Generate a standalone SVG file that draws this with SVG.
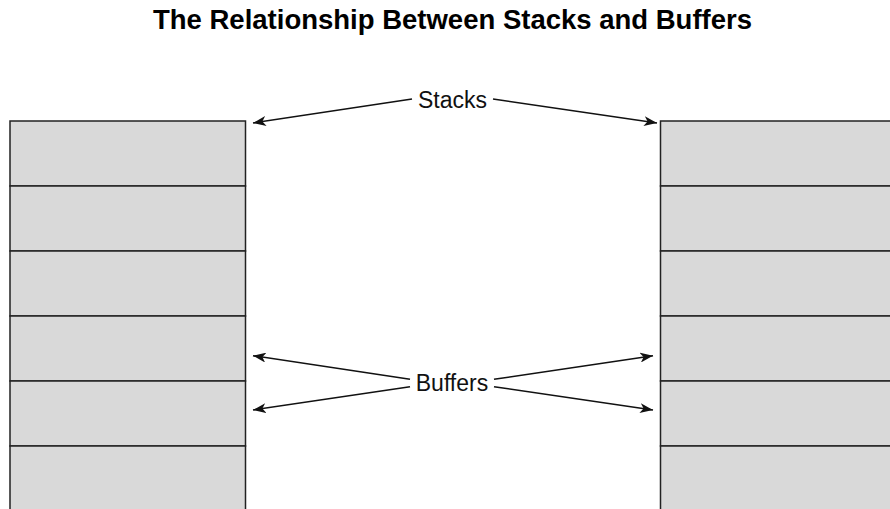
<svg xmlns="http://www.w3.org/2000/svg" width="890" height="509" viewBox="0 0 890 509">
  <style>
    .cell { fill: #d9d9d9; stroke: #222222; stroke-width: 1.5; }
    .title { font-family: "Liberation Sans", Arial, sans-serif; font-weight: bold; font-size: 27.5px; fill: #000000; }
    .label { font-family: "Liberation Sans", Arial, sans-serif; font-size: 23px; fill: #111111; }
    .conn { stroke: #111111; stroke-width: 1.5; fill: none; marker-end: url(#arrow); }
  </style>
  <defs>
    <marker id="arrow" viewBox="0 0 13 10" markerUnits="userSpaceOnUse" markerWidth="13" markerHeight="10" refX="13" refY="5" orient="auto">
      <path d="M0,0 L13,5 L0,10 L3.5,5 z" fill="#111111"/>
    </marker>
  </defs>
  <rect width="890" height="509" fill="#ffffff"/>
  <g id="title">
    <text class="title" x="452.5" y="29" text-anchor="middle">The Relationship Between Stacks and Buffers</text>
  </g>
  <g id="left-stack">
    <rect class="cell" x="10" y="121" width="235.5" height="65"/>
    <rect class="cell" x="10" y="186" width="235.5" height="65"/>
    <rect class="cell" x="10" y="251" width="235.5" height="65"/>
    <rect class="cell" x="10" y="316" width="235.5" height="65"/>
    <rect class="cell" x="10" y="381" width="235.5" height="65"/>
    <rect class="cell" x="10" y="446" width="235.5" height="65"/>
  </g>
  <g id="right-stack">
    <rect class="cell" x="660.5" y="121" width="235.5" height="65"/>
    <rect class="cell" x="660.5" y="186" width="235.5" height="65"/>
    <rect class="cell" x="660.5" y="251" width="235.5" height="65"/>
    <rect class="cell" x="660.5" y="316" width="235.5" height="65"/>
    <rect class="cell" x="660.5" y="381" width="235.5" height="65"/>
    <rect class="cell" x="660.5" y="446" width="235.5" height="65"/>
  </g>
  <g id="stacks-label">
    <text class="label" x="452.5" y="108" text-anchor="middle">Stacks</text>
  </g>
  <g id="buffers-label">
    <text class="label" x="452" y="391" text-anchor="middle">Buffers</text>
  </g>
  <g id="connectors">
    <line class="conn" x1="412" y1="99" x2="253" y2="123"/>
    <line class="conn" x1="493" y1="99" x2="657" y2="123"/>
    <line class="conn" x1="410" y1="379.3" x2="253" y2="355.7"/>
    <line class="conn" x1="410" y1="386.7" x2="253" y2="410"/>
    <line class="conn" x1="494" y1="379.3" x2="653" y2="355.7"/>
    <line class="conn" x1="494" y1="386.7" x2="653" y2="410"/>
  </g>
</svg>
